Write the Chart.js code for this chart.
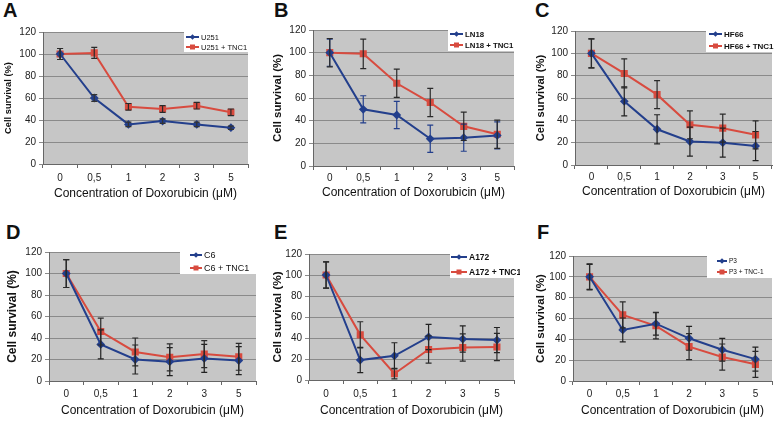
<!DOCTYPE html>
<html lang="en">
<head>
  <meta charset="UTF-8" />
  <title>Cell survival vs Doxorubicin</title>
  <script src="https://cdn.jsdelivr.net/npm/chart.js"></script>
  <style>
    body { margin: 0; background: #fff; width: 778px; height: 427px; position: relative; overflow: hidden; font-family: "Liberation Sans", Arial, sans-serif; }
    canvas { position: absolute; }
    .letra { position: absolute; font-weight: bold; font-size: 20px; line-height: 20px; color: #111; }
  </style>
</head>
<body>

<div class="letra" style="left:3px;top:0px">A</div>
<div class="letra" style="left:274px;top:0px">B</div>
<div class="letra" style="left:535px;top:0px">C</div>
<div class="letra" style="left:6px;top:222px">D</div>
<div class="letra" style="left:274px;top:222px">E</div>
<div class="letra" style="left:537px;top:222px">F</div>

<script>
  const doses = ['0', '0,5', '1', '2', '3', '5'];

  // A - U251
  const u251 = [100, 60, 36, 39, 36, 33];
  const u251Err = [5, 3, 2, 2, 2, 1.5];
  const u251Tnc1 = [100, 101, 52, 50, 53, 47];
  const u251Tnc1Err = [5, 5, 3, 3, 3, 3];

  // B - LN18
  const ln18 = [100, 50, 45, 24, 25, 27];
  const ln18Err = [12, 12, 12, 12, 12, 12];
  const ln18Tnc1 = [100, 99, 73, 56, 35, 28];
  const ln18Tnc1Err = [12.5, 13, 12.5, 12.5, 12.5, 12.5];

  // C - HF66
  const hf66 = [100, 57, 32, 21, 20, 17];
  const hf66Err = [13, 13, 13, 13, 13, 13];
  const hf66Tnc1 = [100, 82, 63, 36, 33, 27];
  const hf66Tnc1Err = [13, 13, 12.5, 12.5, 12.5, 12.5];

  // D - C6
  const c6 = [100, 34, 20, 18, 21, 19];
  const c6Err = [13, 13.5, 13.5, 13, 13, 13];
  const c6Tnc1 = [100, 46, 27, 22, 25, 22.5];
  const c6Tnc1Err = [13, 12.5, 13, 12.5, 12.5, 12.5];

  // E - A172
  const a172 = [100, 19, 23, 41, 39, 38];
  const a172Err = [12.5, 12, 12.5, 12, 12.5, 12];
  const a172Tnc1 = [100, 43, 6, 29, 31, 31.5];
  const a172Tnc1Err = [12.5, 12.5, 5, 13, 13, 13];

  // F - P3
  const p3 = [100, 49, 55, 41, 30, 21];
  const p3Err = [12, 11.5, 11, 11.5, 11, 11.5];
  const p3Tnc1 = [100, 63.5, 53, 33, 23, 16];
  const p3Tnc1Err = [12.5, 12.5, 12.5, 12.5, 12.5, 12.5];

  const AZUL = '#233f8c';
  const ROJO = '#d84b3f';
  const FUENTE = '"Liberation Sans", Arial, sans-serif';

  // posiciones de cada panel (px locales del canvas)
  const paneles = [
    { x: 0,   y: 0,   w: 262, h: 212, L: 43, T: 32, R: 248, B: 164, tickPad: 4, xTitH: 37.2, yTitSize: 9.3, yTitPad: 2.4,
      nombres: ['U251', 'U251 + TNC1'], azul: u251, azulErr: u251Err, rojo: u251Tnc1, rojoErr: u251Tnc1Err, errAzul: '#333',
      ley: { x1: 184, x2: 248, y1: 31, y2: 52, rows: [37, 47], lx: 186, len: 13, size: 7.5, bold: false } },
    { x: 258, y: 0,   w: 262, h: 212, L: 55, T: 30, R: 257, B: 166, tickPad: 2, xTitH: 34.2, yTitSize: 11.4, yTitPad: 13,
      nombres: ['LN18', 'LN18 + TNC1'], azul: ln18, azulErr: ln18Err, rojo: ln18Tnc1, rojoErr: ln18Tnc1Err, errAzul: AZUL,
      ley: { x1: 190, x2: 258, y1: 29, y2: 51, rows: [34, 45], lx: 192, len: 13, size: 7.8, bold: true } },
    { x: 516, y: 0,   w: 262, h: 212, L: 59, T: 31, R: 262, B: 165, tickPad: 2, xTitH: 34.2, yTitSize: 11.2, yTitPad: 18,
      nombres: ['HF66', 'HF66 + TNC1'], azul: hf66, azulErr: hf66Err, rojo: hf66Tnc1, rojoErr: hf66Tnc1Err, errAzul: '#222',
      ley: { x1: 190, x2: 262, y1: 29, y2: 52, rows: [34, 46], lx: 193, len: 13, size: 8, bold: true } },
    { x: 0,   y: 212, w: 262, h: 215, L: 49, T: 40, R: 259, B: 169, tickPad: 3, xTitH: 37.2, yTitSize: 12, yTitPad: 5,
      nombres: ['C6', 'C6 + TNC1'], azul: c6, azulErr: c6Err, rojo: c6Tnc1, rojoErr: c6Tnc1Err, errAzul: '#222',
      ley: { x1: 180, x2: 258, y1: 37, y2: 62, rows: [43, 56], lx: 190, len: 12, size: 9, bold: false } },
    { x: 258, y: 212, w: 262, h: 215, L: 51, T: 42, R: 257, B: 168, tickPad: 4, xTitH: 38.2, yTitSize: 11.8, yTitPad: 12.4,
      nombres: ['A172', 'A172 + TNC1'], azul: a172, azulErr: a172Err, rojo: a172Tnc1, rojoErr: a172Tnc1Err, errAzul: '#222',
      ley: { x1: 192, x2: 258, y1: 38, y2: 66, rows: [45, 60], lx: 193, len: 16, size: 8.5, bold: true } },
    { x: 516, y: 212, w: 262, h: 215, L: 57, T: 44, R: 261, B: 169, tickPad: 3, xTitH: 37.2, yTitSize: 11.5, yTitPad: 17.6,
      nombres: ['P3', 'P3 + TNC-1'], azul: p3, azulErr: p3Err, rojo: p3Tnc1, rojoErr: p3Tnc1Err, errAzul: '#222',
      ley: { x1: 191, x2: 262, y1: 44, y2: 66, rows: [49, 60], lx: 201, len: 10, size: 6.5, bold: false } }
  ];

  // fondo gris del area del grafico
  const fondoPlugin = {
    id: 'fondo',
    beforeDraw(chart) {
      const a = chart.chartArea, ctx = chart.ctx;
      ctx.save();
      ctx.fillStyle = '#c6c6c6';
      ctx.fillRect(a.left, a.top, a.right - a.left, a.bottom - a.top);
      ctx.restore();
    }
  };

  // barras de error
  const erroresPlugin = {
    id: 'errores',
    afterDatasetsDraw(chart) {
      const ctx = chart.ctx, y = chart.scales.y;
      ctx.save();
      ctx.lineWidth = 1.2;
      chart.data.datasets.forEach((ds, i) => {
        const meta = chart.getDatasetMeta(i);
        ctx.strokeStyle = ds.errColor;
        meta.data.forEach((pt, j) => {
          const v = ds.data[j], e = ds.errores[j];
          const y1 = y.getPixelForValue(v + e), y2 = y.getPixelForValue(v - e);
          ctx.beginPath();
          ctx.moveTo(pt.x, y1); ctx.lineTo(pt.x, y2);
          ctx.moveTo(pt.x - 3, y1); ctx.lineTo(pt.x + 3, y1);
          ctx.moveTo(pt.x - 3, y2); ctx.lineTo(pt.x + 3, y2);
          ctx.stroke();
        });
      });
      ctx.restore();
    }
  };

  function marcador(ctx, tipo, x, y, color) {
    ctx.fillStyle = color;
    ctx.beginPath();
    if (tipo === 'rect') {
      ctx.rect(x - 2.5, y - 2.5, 5, 5);
    } else {
      ctx.moveTo(x, y - 2.8); ctx.lineTo(x + 2.8, y); ctx.lineTo(x, y + 2.8); ctx.lineTo(x - 2.8, y); ctx.closePath();
    }
    ctx.fill();
  }

  function crearPanel(p) {
    const cv = document.createElement('canvas');
    cv.width = p.w; cv.height = p.h;
    cv.style.left = p.x + 'px'; cv.style.top = p.y + 'px';
    document.body.appendChild(cv);

    const ley = p.ley;
    const leyendaPlugin = {
      id: 'leyenda',
      afterDraw(chart) {
        const ctx = chart.ctx;
        ctx.save();
        ctx.fillStyle = '#fff';
        ctx.fillRect(ley.x1, ley.y1, ley.x2 - ley.x1, ley.y2 - ley.y1);
        ctx.font = (ley.bold ? 'bold ' : '') + ley.size + 'px ' + FUENTE;
        ctx.textBaseline = 'middle';
        chart.data.datasets.forEach((ds, i) => {
          const y = ley.rows[i];
          ctx.strokeStyle = ds.borderColor; ctx.lineWidth = 2;
          ctx.beginPath(); ctx.moveTo(ley.lx, y); ctx.lineTo(ley.lx + ley.len, y); ctx.stroke();
          marcador(ctx, ds.pointStyle, ley.lx + ley.len / 2, y, ds.borderColor);
          ctx.fillStyle = '#111';
          ctx.fillText(ds.label, ley.lx + ley.len + 2, y + 0.5);
        });
        ctx.restore();
      }
    };

    new Chart(cv.getContext('2d'), {
      type: 'line',
      data: {
        labels: doses,
        datasets: [
          { label: p.nombres[0], data: p.azul, errores: p.azulErr, errColor: p.errAzul,
            borderColor: AZUL, backgroundColor: AZUL, borderWidth: 2, pointStyle: 'rectRot', pointRadius: 3, tension: 0 },
          { label: p.nombres[1], data: p.rojo, errores: p.rojoErr, errColor: '#2a2a2a',
            borderColor: ROJO, backgroundColor: ROJO, borderWidth: 2, pointStyle: 'rect', pointRadius: 3.6, tension: 0 }
        ]
      },
      options: {
        responsive: false,
        animation: false,
        devicePixelRatio: 1,
        layout: { padding: { left: 0, top: p.T, right: p.w - p.R, bottom: p.h - p.B - p.xTitH } },
        plugins: { legend: { display: false }, tooltip: { enabled: false } },
        scales: {
          x: {
            type: 'category',
            offset: true,
            grid: { offset: true, drawOnChartArea: false, tickLength: 4, color: '#666' },
            border: { color: '#666', width: 1 },
            ticks: { padding: p.tickPad, color: '#222', font: { family: FUENTE, size: 10 }, maxRotation: 0 },
            title: { display: true, text: 'Concentration of Doxorubicin (\u03bcM)', color: '#111',
                     padding: { top: 0, bottom: 0 }, font: { family: FUENTE, size: 12 } },
            afterFit(s) { s.height = p.xTitH; }
          },
          y: {
            min: 0, max: 120,
            ticks: { stepSize: 20, padding: 3, color: '#222', font: { family: FUENTE, size: 10 } },
            grid: { color: '#8a8a8a', tickLength: 4 },
            border: { color: '#666', width: 1 },
            title: { display: true, text: 'Cell survival (%)', color: '#111',
                     padding: { top: p.yTitPad, bottom: 0 }, font: { family: FUENTE, size: p.yTitSize, weight: 'bold' } },
            afterFit(s) { s.width = p.L; }
          }
        }
      },
      plugins: [fondoPlugin, erroresPlugin, leyendaPlugin]
    });
  }

  paneles.forEach(crearPanel);
</script>

</body>
</html>
